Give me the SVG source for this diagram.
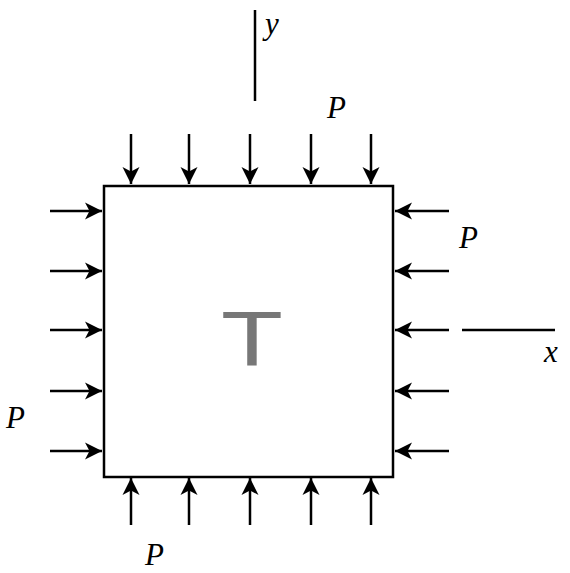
<svg xmlns="http://www.w3.org/2000/svg" width="570" height="573" viewBox="0 0 570 573">
<defs>
<marker id="ah" markerUnits="userSpaceOnUse" markerWidth="18" markerHeight="18" viewBox="0 0 18 18" refX="17" refY="9" orient="auto">
<path d="M0,0.5 L17,9 L0,17.5 L4.5,9 z" fill="#000"/>
</marker>
<style>
.ar{stroke:#000;stroke-width:2.5;fill:none;marker-end:url(#ah)}
.ax{stroke:#000;stroke-width:2.5;fill:none}
.lb{font-family:"Liberation Serif","DejaVu Serif",serif;font-style:italic;font-size:31px;fill:#000}
</style>
</defs>
<rect width="570" height="573" fill="#fff"/>
<g id="plate">
<rect x="104" y="186" width="289" height="291" fill="#fff" stroke="#000" stroke-width="2.5"/>
<text transform="translate(252,366) scale(1.3,1)" x="0" y="0" text-anchor="middle" font-family="Liberation Sans, Arial, sans-serif" font-size="78" fill="#777">T</text>
</g>
<g id="connectors">
<line class="ar" x1="131" y1="134" x2="131" y2="184"/>
<line class="ar" x1="189" y1="134" x2="189" y2="184"/>
<line class="ar" x1="250" y1="134" x2="250" y2="184"/>
<line class="ar" x1="311" y1="134" x2="311" y2="184"/>
<line class="ar" x1="371" y1="134" x2="371" y2="184"/>
<line class="ar" x1="131" y1="525" x2="131" y2="478"/>
<line class="ar" x1="189" y1="525" x2="189" y2="478"/>
<line class="ar" x1="250" y1="525" x2="250" y2="478"/>
<line class="ar" x1="311" y1="525" x2="311" y2="478"/>
<line class="ar" x1="371" y1="525" x2="371" y2="478"/>
<line class="ar" x1="50" y1="211" x2="102" y2="211"/>
<line class="ar" x1="50" y1="271" x2="102" y2="271"/>
<line class="ar" x1="50" y1="330" x2="102" y2="330"/>
<line class="ar" x1="50" y1="391" x2="102" y2="391"/>
<line class="ar" x1="50" y1="451" x2="102" y2="451"/>
<line class="ar" x1="449" y1="211" x2="395" y2="211"/>
<line class="ar" x1="449" y1="271" x2="395" y2="271"/>
<line class="ar" x1="449" y1="330" x2="395" y2="330"/>
<line class="ar" x1="449" y1="391" x2="395" y2="391"/>
<line class="ar" x1="449" y1="451" x2="395" y2="451"/>
<line class="ax" x1="255" y1="10" x2="255" y2="101"/>
<line class="ax" x1="462" y1="330" x2="555" y2="330"/>
</g>
<g id="labels">
<text class="lb" x="265" y="34">y</text>
<text class="lb" x="327" y="118">P</text>
<text class="lb" x="459" y="248">P</text>
<text class="lb" x="544" y="362">x</text>
<text class="lb" x="6" y="428">P</text>
<text class="lb" x="145" y="565">P</text>
</g>
</svg>
